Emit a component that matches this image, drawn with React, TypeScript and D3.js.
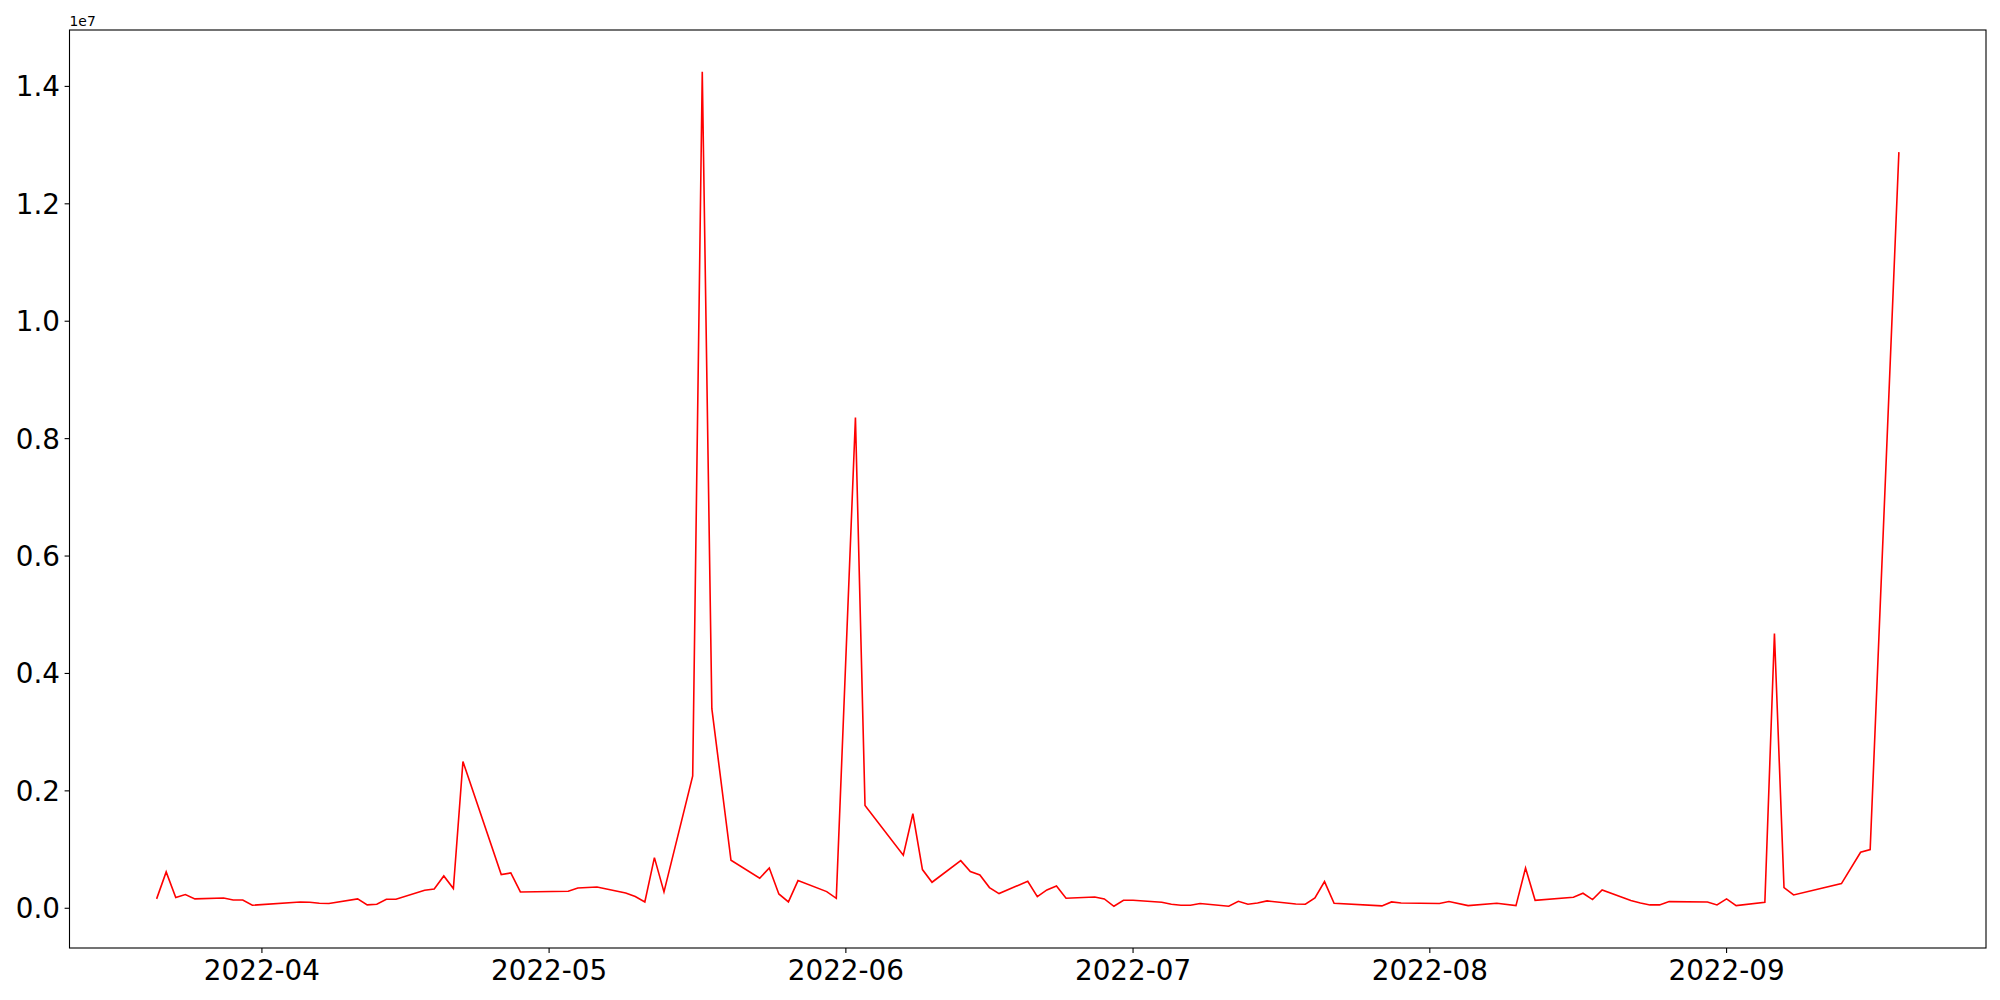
import React from 'react';
import * as d3 from 'd3';

const DATES = [
  '2022-03-21', '2022-03-22', '2022-03-23', '2022-03-24', '2022-03-25',
  '2022-03-28', '2022-03-29', '2022-03-30', '2022-03-31',
  '2022-04-05', '2022-04-06', '2022-04-07', '2022-04-08',
  '2022-04-11', '2022-04-12', '2022-04-13', '2022-04-14', '2022-04-15',
  '2022-04-18', '2022-04-19', '2022-04-20', '2022-04-21', '2022-04-22',
  '2022-04-26', '2022-04-27', '2022-04-28',
  '2022-05-03', '2022-05-04', '2022-05-06',
  '2022-05-09', '2022-05-10', '2022-05-11', '2022-05-12', '2022-05-13',
  '2022-05-16', '2022-05-17', '2022-05-18', '2022-05-20',
  '2022-05-23', '2022-05-24', '2022-05-25', '2022-05-26', '2022-05-27',
  '2022-05-30', '2022-05-31', '2022-06-02', '2022-06-03',
  '2022-06-07', '2022-06-08', '2022-06-09', '2022-06-10',
  '2022-06-13', '2022-06-14', '2022-06-15', '2022-06-16', '2022-06-17',
  '2022-06-20', '2022-06-21', '2022-06-22', '2022-06-23', '2022-06-24',
  '2022-06-27', '2022-06-28', '2022-06-29', '2022-06-30', '2022-07-01',
  '2022-07-04', '2022-07-05', '2022-07-06', '2022-07-07', '2022-07-08',
  '2022-07-11', '2022-07-12', '2022-07-13', '2022-07-14', '2022-07-15',
  '2022-07-18', '2022-07-19', '2022-07-20', '2022-07-21', '2022-07-22',
  '2022-07-27', '2022-07-28', '2022-07-29',
  '2022-08-02', '2022-08-03', '2022-08-05',
  '2022-08-08', '2022-08-10', '2022-08-11', '2022-08-12',
  '2022-08-16', '2022-08-17', '2022-08-18', '2022-08-19',
  '2022-08-22', '2022-08-23', '2022-08-24', '2022-08-25', '2022-08-26',
  '2022-08-30', '2022-08-31', '2022-09-01', '2022-09-02',
  '2022-09-05', '2022-09-06', '2022-09-07', '2022-09-08',
  '2022-09-13', '2022-09-15', '2022-09-16', '2022-09-19',
];

// values in thousands
const VALUES_K = [
  160, 620, 182, 233, 160,
  176, 142, 142, 51,
  108, 102, 85, 80,
  159, 57, 68, 153, 153,
  307, 329, 551, 335, 2500,
  574, 602, 278,
  290, 344, 363,
  261, 199, 108, 863, 278,
  2254, 14250, 3400, 818,
  511, 687, 244, 108, 471,
  284, 170, 8360, 1750,
  903, 1610, 659, 443,
  812, 625, 568, 352, 250,
  460, 199, 312, 380, 170,
  193, 159, 34, 136, 136,
  102, 68, 51, 51, 80,
  34, 119, 68, 91, 125,
  74, 68, 176, 454, 85,
  40, 108, 91,
  80, 114, 45,
  85, 45, 687, 136,
  187, 256, 148, 312,
  131, 91, 57, 57, 114,
  108, 57, 159, 45,
  102, 4680, 352, 227,
  420, 954, 1000, 12880,
];

const Y_TICKS = [0, 0.2e7, 0.4e7, 0.6e7, 0.8e7, 1.0e7, 1.2e7, 1.4e7];
const X_TICKS = ['2022-04-01', '2022-05-01', '2022-06-01', '2022-07-01', '2022-08-01', '2022-09-01'];

const W = 2000;
const H = 1000;
const M = { left: 69.5, right: 1986, top: 30, bottom: 948 };
const FONT = 'DejaVu Sans, sans-serif';
const TICK_FS = 27.8;

const parse = d3.utcParse('%Y-%m-%d');

export default function App() {
  const data = DATES.map((d, i) => ({ date: parse(d) as Date, value: VALUES_K[i] * 1000 }));

  const [x0, x1] = d3.extent(data, (d) => d.date) as [Date, Date];
  const xPad = (x1.getTime() - x0.getTime()) * 0.05;
  const x = d3.scaleUtc()
    .domain([new Date(x0.getTime() - xPad), new Date(x1.getTime() + xPad)])
    .range([M.left, M.right]);

  const [y0, y1] = d3.extent(data, (d) => d.value) as [number, number];
  const yPad = (y1 - y0) * 0.05;
  const y = d3.scaleLinear().domain([y0 - yPad, y1 + yPad]).range([M.bottom, M.top]);

  const line = d3.line<{ date: Date; value: number }>()
    .x((d) => x(d.date))
    .y((d) => y(d.value));

  const fmt = d3.utcFormat('%Y-%m');

  return (
    <svg width={W} height={H} style={{ position: 'absolute', left: 0, top: 0, background: '#fff' }}>
      <rect x={0} y={0} width={W} height={H} fill="#fff" />
      <path d={line(data) ?? ''} fill="none" stroke="#ff0000" strokeWidth={1.6} strokeLinejoin="miter" />

      {/* frame */}
      <rect x={M.left} y={M.top} width={M.right - M.left} height={M.bottom - M.top}
        fill="none" stroke="#000" strokeWidth={1.1} />

      {/* y axis */}
      {Y_TICKS.map((t) => (
        <g key={t} transform={`translate(0,${y(t)})`}>
          <line x1={M.left - 4.9} x2={M.left} stroke="#000" strokeWidth={1.1} />
          <text x={M.left - 9.5} y={10} textAnchor="end" fontFamily={FONT} fontSize={TICK_FS} fill="#000">
            {(t / 1e7).toFixed(1)}
          </text>
        </g>
      ))}
      <text x={M.left} y={26} fontFamily={FONT} fontSize={13.9} fill="#000">1e7</text>

      {/* x axis */}
      {X_TICKS.map((s) => {
        const d = parse(s) as Date;
        return (
          <g key={s} transform={`translate(${x(d)},0)`}>
            <line y1={M.bottom} y2={M.bottom + 4.9} stroke="#000" strokeWidth={1.1} />
            <text y={M.bottom + 31.5} textAnchor="middle" fontFamily={FONT} fontSize={TICK_FS} fill="#000">
              {fmt(d)}
            </text>
          </g>
        );
      })}
    </svg>
  );
}
